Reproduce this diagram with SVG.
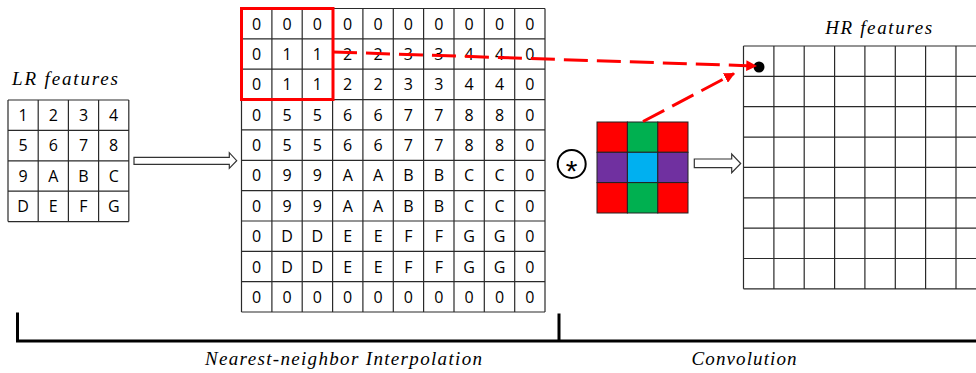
<svg xmlns="http://www.w3.org/2000/svg" width="976" height="373" viewBox="0 0 976 373">
<defs>
<style>
.grid{fill:none;stroke:#2a2a2a;stroke-width:1.2}
.num{font-family:"Open Sans","Liberation Sans",sans-serif;font-size:16px;fill:#000;text-anchor:middle}
.lbl{font-family:"Liberation Serif",serif;font-style:italic;font-size:19px;fill:#000;text-anchor:middle}
.red{fill:none;stroke:#ff0000;stroke-width:3;stroke-dasharray:24 9}
.block{fill:#fff;stroke:#333;stroke-width:1.2}
.kc{stroke:#222;stroke-width:1}
</style>
<marker id="ah" viewBox="0 0 10 10" refX="9" refY="5" markerWidth="3.6" markerHeight="3.6" orient="auto" markerUnits="strokeWidth">
<path d="M0,0 L10,5 L0,10 Z" fill="#ff0000"/>
</marker>
</defs>
<rect width="976" height="373" fill="#fff"/>

<g id="lr-features">
<text class="lbl" x="65" y="85" textLength="106">LR features</text>
<path class="grid" d="M8,100H128.8M8,130.4H128.8M8,160.8H128.8M8,191.2H128.8M8,221.6H128.8M8,100V221.6M38.2,100V221.6M68.4,100V221.6M98.6,100V221.6M128.8,100V221.6"/>
<text class="num" x="23.1 53.3 83.5 113.7" y="121">1234</text>
<text class="num" x="23.1 53.3 83.5 113.7" y="151.4">5678</text>
<text class="num" x="23.1 53.3 83.5 113.7" y="181.8">9ABC</text>
<text class="num" x="23.1 53.3 83.5 113.7" y="212.2">DEFG</text>
</g>

<g id="interp-grid">
<path class="grid" d="M241.5,8.5H545M241.5,38.9H545M241.5,69.2H545M241.5,99.6H545M241.5,129.9H545M241.5,160.3H545M241.5,190.6H545M241.5,221H545M241.5,251.3H545M241.5,281.7H545M241.5,312H545M241.5,8.5V312M271.9,8.5V312M302.2,8.5V312M332.6,8.5V312M362.9,8.5V312M393.3,8.5V312M423.6,8.5V312M454,8.5V312M484.3,8.5V312M514.7,8.5V312M545,8.5V312"/>
<text class="num" x="256.7 287 317.4 347.7 378.1 408.4 438.8 469.1 499.5 529.8" y="29.7">0000000000</text>
<text class="num" x="256.7 287 317.4 347.7 378.1 408.4 438.8 469.1 499.5 529.8" y="60">0112233440</text>
<text class="num" x="256.7 287 317.4 347.7 378.1 408.4 438.8 469.1 499.5 529.8" y="90.4">0112233440</text>
<text class="num" x="256.7 287 317.4 347.7 378.1 408.4 438.8 469.1 499.5 529.8" y="120.7">0556677880</text>
<text class="num" x="256.7 287 317.4 347.7 378.1 408.4 438.8 469.1 499.5 529.8" y="151.1">0556677880</text>
<text class="num" x="256.7 287 317.4 347.7 378.1 408.4 438.8 469.1 499.5 529.8" y="181.4">099AABBCC0</text>
<text class="num" x="256.7 287 317.4 347.7 378.1 408.4 438.8 469.1 499.5 529.8" y="211.8">099AABBCC0</text>
<text class="num" x="256.7 287 317.4 347.7 378.1 408.4 438.8 469.1 499.5 529.8" y="242.1">0DDEEFFGG0</text>
<text class="num" x="256.7 287 317.4 347.7 378.1 408.4 438.8 469.1 499.5 529.8" y="272.5">0DDEEFFGG0</text>
<text class="num" x="256.7 287 317.4 347.7 378.1 408.4 438.8 469.1 499.5 529.8" y="302.8">0000000000</text>
<rect x="241.5" y="8.5" width="91.5" height="91" fill="none" stroke="#ff0000" stroke-width="3"/>
</g>

<g id="conv-operator">
<circle cx="571.7" cy="164" r="14" fill="#fff" stroke="#000" stroke-width="2"/>
<text x="571.7" y="181" font-family="Liberation Sans,sans-serif" font-size="30" text-anchor="middle">*</text>
</g>

<g id="kernel">
<rect class="kc" x="597" y="122" width="30.4" height="30.3" fill="#ff0000"/>
<rect class="kc" x="627.4" y="122" width="30.4" height="30.3" fill="#00b050"/>
<rect class="kc" x="657.8" y="122" width="30.2" height="30.3" fill="#ff0000"/>
<rect class="kc" x="597" y="152.3" width="30.4" height="30.3" fill="#7030a0" stroke="#3aa0d8"/>
<rect class="kc" x="627.4" y="152.3" width="30.4" height="30.3" fill="#00b0f0"/>
<rect class="kc" x="657.8" y="152.3" width="30.2" height="30.3" fill="#7030a0"/>
<rect class="kc" x="597" y="182.6" width="30.4" height="30.4" fill="#ff0000"/>
<rect class="kc" x="627.4" y="182.6" width="30.4" height="30.4" fill="#00b050"/>
<rect class="kc" x="657.8" y="182.6" width="30.2" height="30.4" fill="#ff0000"/>
</g>

<g id="hr-features">
<text class="lbl" x="878.7" y="34" textLength="107">HR features</text>
<path class="grid" d="M743.5,46H976M743.5,76.4H976M743.5,106.7H976M743.5,137.1H976M743.5,167.4H976M743.5,197.8H976M743.5,228.1H976M743.5,258.5H976M743.5,288.8H976M743.5,46V288.8M773.9,46V288.8M804.2,46V288.8M834.6,46V288.8M864.9,46V288.8M895.3,46V288.8M925.6,46V288.8M956,46V288.8"/>
<circle cx="759" cy="67" r="5.5" fill="#000"/>
</g>

<g id="connectors">
<polygon class="block" points="134,157.3 229.3,157.3 229.3,152.7 236.7,160.7 229.3,168.3 229.3,164.3 134,164.3"/>
<polygon class="block" points="694.3,159 731.7,159 731.7,154 740.7,163.5 731.7,172.7 731.7,167.7 694.3,167.7"/>
<path class="red" d="M333,52 L756,66" marker-end="url(#ah)"/>
<path class="red" d="M643,121.5 L734,73.5" marker-end="url(#ah)"/>
</g>

<g id="stages">
<path d="M17.5,312.5V341H976M559,313.5V341" fill="none" stroke="#000" stroke-width="3"/>
<text class="lbl" x="343.5" y="365" textLength="277">Nearest-neighbor Interpolation</text>
<text class="lbl" x="744" y="365" textLength="105">Convolution</text>
</g>
</svg>
